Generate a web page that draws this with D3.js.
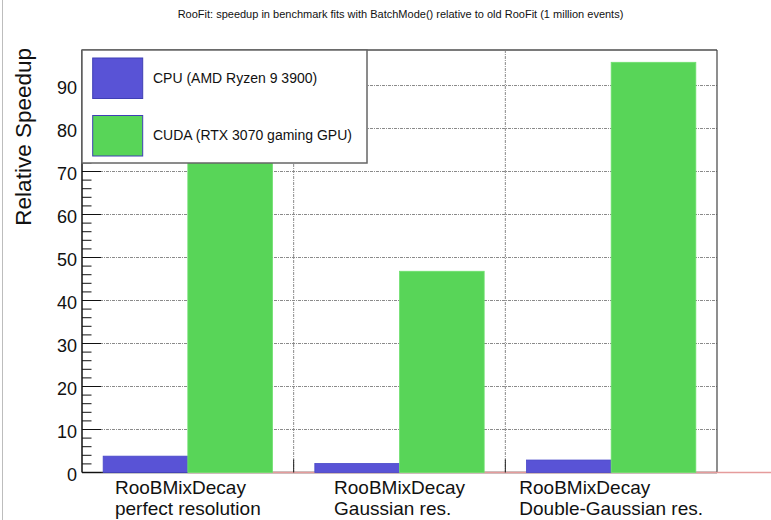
<!DOCTYPE html>
<html>
<head>
<meta charset="utf-8">
<script src="https://cdn.jsdelivr.net/npm/d3@7"></script>
<style>
  html, body { margin: 0; padding: 0; background: #fff; }
  svg { display: block; font-family: "Liberation Sans", Arial, Helvetica, sans-serif; }
</style>
</head>
<body>
<svg id="chart" width="771" height="520"></svg>
<script>
// Benchmark categories (two-line labels) and the speedups per backend
const categoryLine1 = ["RooBMixDecay", "RooBMixDecay", "RooBMixDecay"];
const categoryLine2 = ["perfect resolution", "Gaussian res.", "Double-Gaussian res."];
const seriesNames = ["CPU (AMD Ryzen 9 3900)", "CUDA (RTX 3070 gaming GPU)"];
const cpuSpeedup = [3.8, 2.1, 2.9];
const cudaSpeedup = [84, 46.8, 95.4];
const yTicks = [0, 10, 20, 30, 40, 50, 60, 70, 80, 90];
const titleText = "RooFit: speedup in benchmark fits with BatchMode() relative to old RooFit (1 million events)";
const yTitle = "Relative Speedup";

const seriesValues = [cpuSpeedup, cudaSpeedup];
const seriesFill = ["#5953d6", "#58d558"];
const seriesEdge = ["#4848c8", "#6fe06f"];

const svg = d3.select("#chart");
const frame = { left: 82, right: 717, top: 50, bottom: 472.5 };

const x = d3.scaleBand()
  .domain(d3.range(categoryLine1.length))
  .range([frame.left, frame.right])
  .paddingInner(0).paddingOuter(0);
const xSeries = d3.scaleBand()
  .domain(d3.range(seriesValues.length))
  .range([x.bandwidth() * 0.1, x.bandwidth() * 0.9])
  .padding(0);
const y = d3.scaleLinear().domain([0, 98.26]).range([frame.bottom, frame.top]);

// page edge line on the left
svg.append("line")
  .attr("x1", 2.5).attr("x2", 2.5).attr("y1", 0).attr("y2", 520)
  .attr("stroke", "#bdbdbd").attr("stroke-width", 1);

// title
svg.append("text")
  .attr("x", (frame.left + frame.right) / 2 + 1).attr("y", 18)
  .attr("text-anchor", "middle")
  .attr("font-size", 11)
  .attr("fill", "#111")
  .text(titleText);

// frame background
svg.append("rect")
  .attr("x", frame.left).attr("y", frame.top)
  .attr("width", frame.right - frame.left).attr("height", frame.bottom - frame.top)
  .attr("fill", "#fff");

// horizontal dotted grid
const grid = svg.append("g");
grid.selectAll("line.h")
  .data(yTicks.filter(d => d > 0))
  .join("line")
  .attr("x1", frame.left).attr("x2", frame.right)
  .attr("y1", d => y(d)).attr("y2", d => y(d))
  .attr("stroke", "#8a8a8a").attr("stroke-width", 1)
  .attr("stroke-dasharray", "3,1,1,1");

// vertical dotted grid at the bin boundaries
const boundaries = d3.range(1, categoryLine1.length).map(i => x(i));
grid.selectAll("line.v")
  .data(boundaries)
  .join("line")
  .attr("x1", d => d).attr("x2", d => d)
  .attr("y1", frame.top).attr("y2", frame.bottom)
  .attr("stroke", "#8a8a8a").attr("stroke-width", 1)
  .attr("stroke-dasharray", "3,1,1,1");

// frame border
svg.append("line")
  .attr("x1", frame.left).attr("x2", frame.right)
  .attr("y1", frame.top).attr("y2", frame.top)
  .attr("stroke", "#7a7a7a").attr("stroke-width", 2);
svg.append("line")
  .attr("x1", frame.right).attr("x2", frame.right)
  .attr("y1", frame.top).attr("y2", frame.bottom)
  .attr("stroke", "#444").attr("stroke-width", 1.2);
svg.append("line")
  .attr("x1", frame.left).attr("x2", frame.right)
  .attr("y1", frame.bottom).attr("y2", frame.bottom)
  .attr("stroke", "#222").attr("stroke-width", 1.5);

// reference line at zero
svg.append("line")
  .attr("x1", x(0) + x.bandwidth() / 2).attr("x2", 771)
  .attr("y1", frame.bottom).attr("y2", frame.bottom)
  .attr("stroke", "#e59c9c").attr("stroke-width", 1.5);

// x-axis ticks at the bin boundaries
svg.selectAll("line.xtick")
  .data(boundaries)
  .join("line")
  .attr("x1", d => d).attr("x2", d => d)
  .attr("y1", frame.bottom).attr("y2", frame.bottom - 13)
  .attr("stroke", "#222").attr("stroke-width", 1);

// bars
const groups = svg.append("g").selectAll("g")
  .data(seriesValues)
  .join("g");
groups.each(function(vals, s) {
  d3.select(this).selectAll("rect")
    .data(vals)
    .join("rect")
    .attr("x", (d, i) => x(i) + xSeries(s))
    .attr("width", xSeries.bandwidth())
    .attr("y", d => y(d))
    .attr("height", d => y(0) - y(d))
    .attr("fill", seriesFill[s])
    .attr("stroke", seriesEdge[s])
    .attr("stroke-width", 0.8);
});

// y axis
const yAxis = svg.append("g");
yAxis.append("line")
  .attr("x1", frame.left).attr("x2", frame.left)
  .attr("y1", frame.top).attr("y2", frame.bottom)
  .attr("stroke", "#111").attr("stroke-width", 1.5);
const minorTicks = d3.range(0, 98.26, 2).filter(v => v % 10 !== 0);
yAxis.selectAll("line.minor")
  .data(minorTicks)
  .join("line")
  .attr("x1", frame.left).attr("x2", frame.left + 9.5)
  .attr("y1", d => y(d)).attr("y2", d => y(d))
  .attr("stroke", "#111").attr("stroke-width", 1);
yAxis.selectAll("line.major")
  .data(yTicks)
  .join("line")
  .attr("x1", frame.left).attr("x2", frame.left + 19)
  .attr("y1", d => y(d)).attr("y2", d => y(d))
  .attr("stroke", "#111").attr("stroke-width", 1);
yAxis.selectAll("text")
  .data(yTicks)
  .join("text")
  .attr("x", frame.left - 5)
  .attr("y", d => y(d) + 2)
  .attr("dy", "0.35em")
  .attr("text-anchor", "end")
  .attr("font-size", 18)
  .attr("fill", "#111")
  .text(d => d);

// y title
svg.append("text")
  .attr("transform", `translate(31,${frame.top - 2}) rotate(-90)`)
  .attr("text-anchor", "end")
  .attr("font-size", 22.5)
  .attr("fill", "#111")
  .text(yTitle);

// category labels: two left-aligned lines, block centred in its bin
categoryLine1.forEach((line1, i) => {
  const t = svg.append("text")
    .attr("font-size", 19)
    .attr("fill", "#111");
  const t1 = t.append("tspan").attr("y", 494).text(line1);
  const t2 = t.append("tspan").attr("y", 515).text(categoryLine2[i]);
  const w = Math.max(t1.node().getComputedTextLength(), t2.node().getComputedTextLength());
  const x0 = x(i) + x.bandwidth() / 2 - w / 2;
  t1.attr("x", x0);
  t2.attr("x", x0);
});

// legend
const legend = svg.append("g");
legend.append("rect")
  .attr("x", frame.left).attr("y", frame.top)
  .attr("width", 285).attr("height", 113)
  .attr("fill", "#fff")
  .attr("stroke", "#666").attr("stroke-width", 1.5);
const legendRows = [58, 115.5];
legend.selectAll("rect.sw")
  .data(seriesNames)
  .join("rect")
  .attr("x", 92.7).attr("y", (d, i) => legendRows[i])
  .attr("width", 50).attr("height", 40.5)
  .attr("fill", (d, i) => seriesFill[i])
  .attr("stroke", "#3f3fb5").attr("stroke-width", 1);
legend.selectAll("text")
  .data(seriesNames)
  .join("text")
  .attr("x", 153).attr("y", (d, i) => legendRows[i] + 20)
  .attr("dy", "0.35em")
  .attr("font-size", 14)
  .attr("fill", "#111")
  .text(d => d);
</script>
</body>
</html>
